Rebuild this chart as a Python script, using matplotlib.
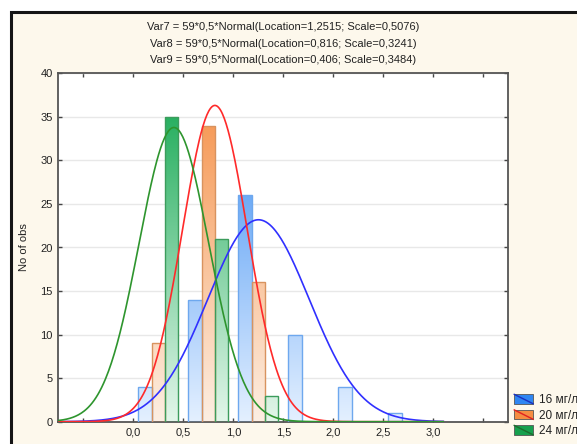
import numpy as np
import matplotlib
matplotlib.use("Agg")
import matplotlib.pyplot as plt
from matplotlib.patches import Rectangle
from matplotlib.lines import Line2D
from matplotlib.legend_handler import HandlerBase
from matplotlib.colors import LinearSegmentedColormap

plt.rcParams['font.family'] = ['Liberation Sans', 'DejaVu Sans']

# --- data ---
bin_centers = [0.25, 0.75, 1.25, 1.75, 2.25, 2.75]
bin_width = 0.5
labels = ["16 мг/л", "20 мг/л", "24 мг/л"]
counts_16 = [4, 14, 26, 10, 4, 1]
counts_20 = [9, 34, 16, 0, 0, 0]
counts_24 = [35, 21, 3, 0, 0, 0]
n_obs = 59
locations = [1.2515, 0.816, 0.406]
scales = [0.5076, 0.3241, 0.3484]
title_lines = [
    "Var7 = 59*0,5*Normal(Location=1,2515; Scale=0,5076)",
    "Var8 = 59*0,5*Normal(Location=0,816; Scale=0,3241)",
    "Var9 = 59*0,5*Normal(Location=0,406; Scale=0,3484)",
]
xticks = [-0.5, 0.0, 0.5, 1.0, 1.5, 2.0, 2.5, 3.0, 3.5]
xticklabels = ["", "0,0", "0,5", "1,0", "1,5", "2,0", "2,5", "3,0", ""]
yticks = [0, 5, 10, 15, 20, 25, 30, 35, 40]

# styles
bar_light = ["#e4f0ff", "#fdefe3", "#e3f6ea"]
bar_dark = ["#2f86f2", "#f58d42", "#0fa64e"]
bar_edge = ["#6ea8ee", "#d8935f", "#3c9c5c"]
curve_col = ["#3030ff", "#ff2a2a", "#2e952e"]
legend_col = ["#2f86f2", "#f58d42", "#16a04e"]
legend_line = ["#1a2fc0", "#e02020", "#1b6e2e"]

fig = plt.figure(figsize=(5.77, 4.44), dpi=100)
fig.patch.set_facecolor("white")
# cream panel with black border
fig.patches.append(Rectangle((11 / 577, -0.1), 1.1, (444 - 12) / 444 + 0.1,
                             transform=fig.transFigure, facecolor="#fdf8ec",
                             edgecolor="#151515", linewidth=2.2, zorder=-10))

ax = fig.add_axes([58.3 / 577, 22.3 / 444, 450 / 577, 348.4 / 444])
ax.set_facecolor("white")

series = [counts_16, counts_20, counts_24]
bw = bin_width * 0.8 / 3
offsets = [-bw, 0.0, bw]
grad = np.linspace(0, 1, 256).reshape(-1, 1)
for i, counts in enumerate(series):
    cmap = LinearSegmentedColormap.from_list("g%d" % i, [bar_light[i], bar_dark[i]])
    xs = np.array(bin_centers) + offsets[i]
    bars = ax.bar(xs, counts, width=bw, facecolor="none",
                  edgecolor=bar_edge[i], linewidth=1.0, zorder=3)
    for b, c in zip(bars, counts):
        if c <= 0:
            b.set_visible(False)
            continue
        im = ax.imshow(grad, cmap=cmap, origin="lower", aspect="auto",
                       extent=(b.get_x(), b.get_x() + b.get_width(), 0, 40),
                       zorder=2, interpolation="bilinear")
        im.set_clip_path(b)

# fitted normal curves from the title
x = np.linspace(-0.75, 3.1, 400)
for i in range(3):
    y = n_obs * bin_width * np.exp(-0.5 * ((x - locations[i]) / scales[i]) ** 2) / (scales[i] * np.sqrt(2 * np.pi))
    ax.plot(x, y, color=curve_col[i], linewidth=1.2, zorder=4)
ax.set_xlim(-0.75, 3.75)
ax.set_ylim(0, 40)

ax.set_yticks(yticks)
ax.set_xticks(xticks)
ax.set_xticklabels(xticklabels)
ax.yaxis.grid(True, color="#e8e8e8", linewidth=1.0, zorder=0)
ax.set_axisbelow(True)
ax.tick_params(direction="in", length=3, width=1, color="#444444",
               labelsize=8, labelcolor="#222222", top=True, right=True, pad=4)
for s in ax.spines.values():
    s.set_color("#555555")
    s.set_linewidth(1.3)
ax.set_ylabel("No of obs", fontsize=8, color="#222222", labelpad=8)

for k, line in enumerate(title_lines):
    fig.text(283 / 577, 1 - (27 + 16.5 * k) / 444, line, ha="center", va="center",
             fontsize=8, color="#222222")


class DiagHandler(HandlerBase):
    def __init__(self, face, line):
        super().__init__()
        self.face = face
        self.line = line

    def create_artists(self, legend, orig_handle, xdescent, ydescent,
                       width, height, fontsize, trans):
        r = Rectangle((-xdescent, -ydescent), width, height, facecolor=self.face,
                      edgecolor="#555555", linewidth=0.6, transform=trans)
        l = Line2D([-xdescent, -xdescent + width], [-ydescent + height, -ydescent],
                   color=self.line, linewidth=1.0, transform=trans)
        return [r, l]


handles = [Rectangle((0, 0), 1, 1) for _ in labels]
hmap = {h: DiagHandler(legend_col[i], legend_line[i]) for i, h in enumerate(handles)}
leg = fig.legend(handles, labels, handler_map=hmap, loc="lower left",
                 bbox_to_anchor=(506 / 577, -1.5 / 444), frameon=False,
                 fontsize=8.5, handlelength=1.6, handleheight=0.85,
                 labelspacing=0.3, handletextpad=0.5, borderpad=0.2)
for t in leg.get_texts():
    t.set_color("#222222")

fig.savefig("out.png", dpi=100)
